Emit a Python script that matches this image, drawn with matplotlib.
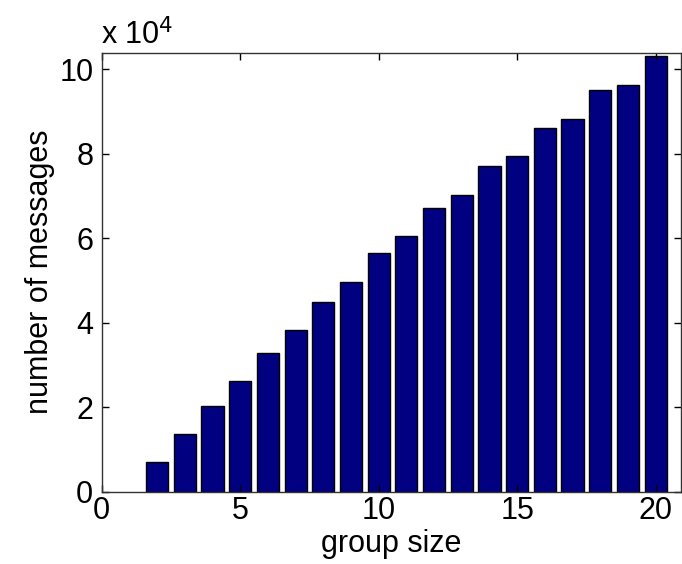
import matplotlib
matplotlib.use("Agg")
import matplotlib.pyplot as plt
from matplotlib.ticker import FuncFormatter, FixedLocator

plt.rcParams['font.family'] = ['Liberation Sans', 'DejaVu Sans']

group_size = [2, 3, 4, 5, 6, 7, 8, 9, 10, 11, 12, 13, 14, 15, 16, 17, 18, 19, 20]
messages = [7000, 13700, 20350, 26100, 32800, 38200, 44900, 49700, 56400,
            60400, 67100, 70300, 77000, 79500, 86100, 88200, 95000, 96300, 103000]
x_ticks = [0, 5, 10, 15, 20]
y_ticks = [0, 20000, 40000, 60000, 80000, 100000]

fs = 22
fig = plt.figure(figsize=(6.82, 5.64), dpi=100)
ax = fig.add_axes([101.7/682, 1-491.7/564, (680.6-101.7)/682, (491.7-52.7)/564])

ax.bar(group_size, messages, width=0.8, color='#000080', edgecolor='black', linewidth=1.0)

ax.set_xlim(0, 20.9)
ax.set_ylim(0, 103860)
ax.xaxis.set_major_locator(FixedLocator(x_ticks))
ax.yaxis.set_major_locator(FixedLocator(y_ticks))
ax.yaxis.set_major_formatter(FuncFormatter(lambda v, p: f"{v/1e4:g}"))

ax.tick_params(axis='both', which='both', direction='in', length=5, width=1,
               top=True, right=True, labelsize=fs, colors='black', pad=3)
ax.tick_params(axis='y', pad=6)
for s in ax.spines.values():
    s.set_color('#333333')
    s.set_linewidth(1.0)

ax.set_xlabel('group size', fontsize=fs, labelpad=2)
ax.set_ylabel('number of messages', fontsize=fs, labelpad=3)

fig.text(101/682, 1-44/564, r'x 10$^4$', fontsize=fs, ha='left', va='baseline')

fig.savefig('out.png', dpi=100)
